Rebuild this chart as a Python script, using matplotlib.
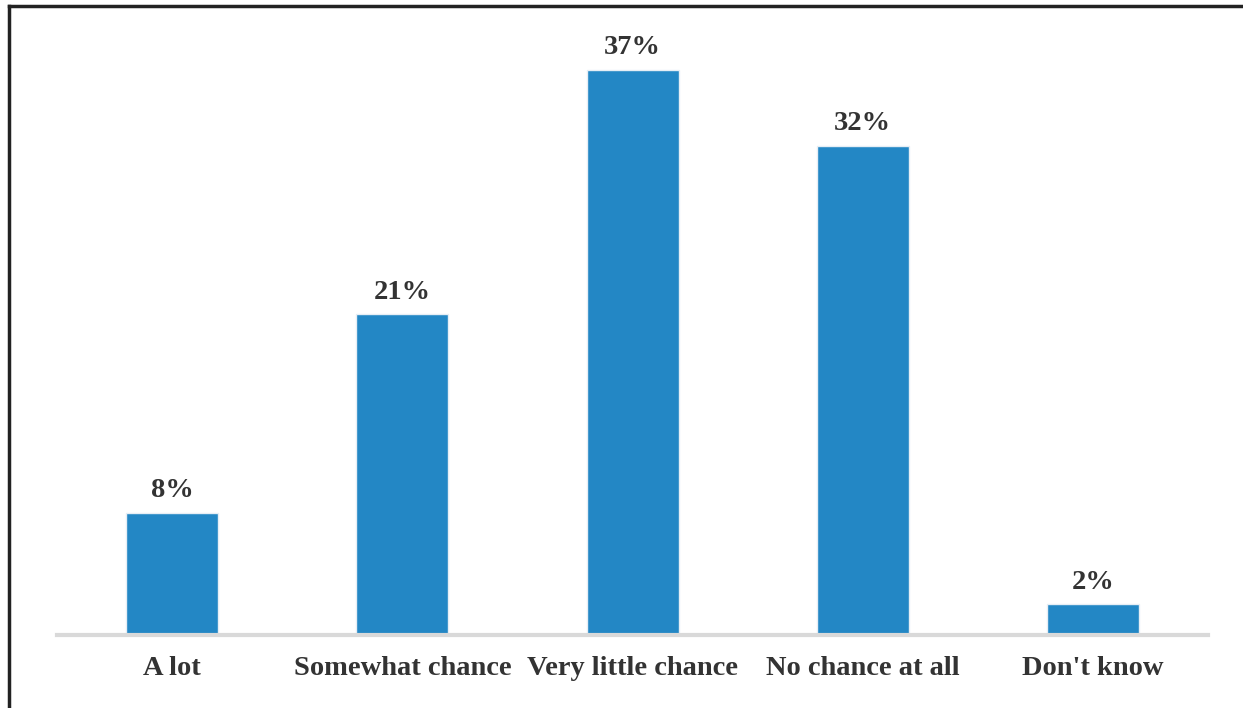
import matplotlib.pyplot as plt
from matplotlib.lines import Line2D

# survey answers and share of respondents (%)
categories = ["A lot", "Somewhat chance", "Very little chance", "No chance at all", "Don't know"]
values = [8, 21, 37, 32, 2]
labels = ["8%", "21%", "37%", "32%", "2%"]

plt.rcParams['font.family'] = ['Liberation Serif', 'DejaVu Serif']

fig = plt.figure(figsize=(12.43, 7.08), dpi=100)
ax = fig.add_axes([0.0459, 0.1031, 0.926, 0.863])

x = range(len(categories))
bars = ax.bar(x, values, width=0.4, color="#2387C5", edgecolor="#e6eef5", linewidth=1)

for b, lab in zip(bars, labels):
    ax.annotate(lab, (b.get_x() + b.get_width() / 2, b.get_height()),
                xytext=(0, 7), textcoords="offset points", ha="center", va="bottom",
                fontsize=20.5, fontweight="bold", color="#333333")

ax.set_xlim(-0.5, 4.5)
ax.set_ylim(0, 40)
ax.set_xticks(list(x))
ax.set_xticklabels(categories, fontsize=20.5, fontweight="bold", color="#333333")
ax.tick_params(axis="x", length=0, pad=15)
ax.set_yticks([])
for s in ["top", "right", "left"]:
    ax.spines[s].set_visible(False)
ax.spines["bottom"].set_color("#d9d9d9")
ax.spines["bottom"].set_linewidth(3)

# frame around the picture (top and left edges visible)
fig.add_artist(Line2D([9 / 1243, 1], [1 - 6 / 708, 1 - 6 / 708], color="#222222", lw=2.5, transform=fig.transFigure))
fig.add_artist(Line2D([9 / 1243, 9 / 1243], [0, 1 - 6 / 708], color="#222222", lw=2.5, transform=fig.transFigure))

fig.savefig("out.png", dpi=100)
